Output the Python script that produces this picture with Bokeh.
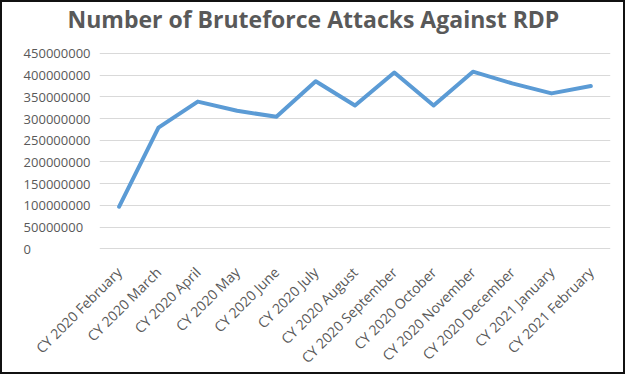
from bokeh.plotting import figure
from bokeh.models import Range1d, FixedTicker
from bokeh.embed import file_html
from bokeh.resources import INLINE
from math import pi

title_text = "Number of Bruteforce Attacks Against RDP"
months = ["CY 2020 February", "CY 2020 March", "CY 2020 April", "CY 2020 May",
          "CY 2020 June", "CY 2020 July", "CY 2020 August", "CY 2020 September",
          "CY 2020 October", "CY 2020 November", "CY 2020 December",
          "CY 2021 January", "CY 2021 February"]
attacks = [97000000, 279000000, 339000000, 318000000, 304000000, 386000000,
           330000000, 406000000, 330000000, 408000000, 381000000, 358000000,
           375000000]
y_ticks = [0, 50000000, 100000000, 150000000, 200000000, 250000000,
           300000000, 350000000, 400000000, 450000000]

TXT = "#595959"
FONT = "Open Sans"

# the frame starts right under the title; the range reaches a bit above the top tick
p = figure(x_range=months, y_range=Range1d(-1600000, 489000000),
           width=625, height=374, output_backend="svg", toolbar_location=None,
           min_border_left=97, min_border_right=17, min_border_top=0,
           min_border_bottom=127)
p.styles = {"border": "2px solid #111111"}
p.outline_line_color = None
p.background_fill_color = "white"
p.border_fill_color = "white"

p.title.text = title_text
p.title.align = "left"
p.title.offset = -32
p.title.vertical_align = "top"
p.title.standoff = 0
p.title.text_font = FONT
p.title.text_font_size = "23px"
p.title.text_font_style = "bold"
p.title.text_color = TXT

p.line(x=months, y=attacks, line_color="#5b9bd5", line_width=4,
       line_join="round", line_cap="round")

p.xgrid.grid_line_color = None
p.ygrid.grid_line_color = "#d9d9d9"
p.ygrid.grid_line_width = 1

# left-align the tick labels by padding shorter ones with figure spaces
width_max = max(len(str(t)) for t in y_ticks)
p.yaxis.ticker = FixedTicker(ticks=y_ticks)
p.yaxis.major_label_overrides = {t: str(t) + "\u2007" * (width_max - len(str(t))) for t in y_ticks}
p.yaxis.major_label_text_font = FONT
p.yaxis.major_label_text_font_size = "13px"
p.yaxis.major_label_text_color = TXT
p.yaxis.axis_line_color = None
p.yaxis.major_tick_line_color = None
p.yaxis.minor_tick_line_color = None
p.yaxis.major_tick_out = 0
p.yaxis.major_tick_in = 0
p.yaxis.major_label_standoff = 9

p.xaxis.axis_line_color = None
p.xaxis.major_tick_line_color = None
p.xaxis.major_tick_out = 0
p.xaxis.major_tick_in = 0
p.xaxis.major_label_orientation = pi / 4
p.xaxis.major_label_text_font = FONT
p.xaxis.major_label_text_font_size = "14px"
p.xaxis.major_label_text_color = TXT
p.xaxis.major_label_standoff = 20

open("out.html", "w").write(file_html(p, INLINE))
